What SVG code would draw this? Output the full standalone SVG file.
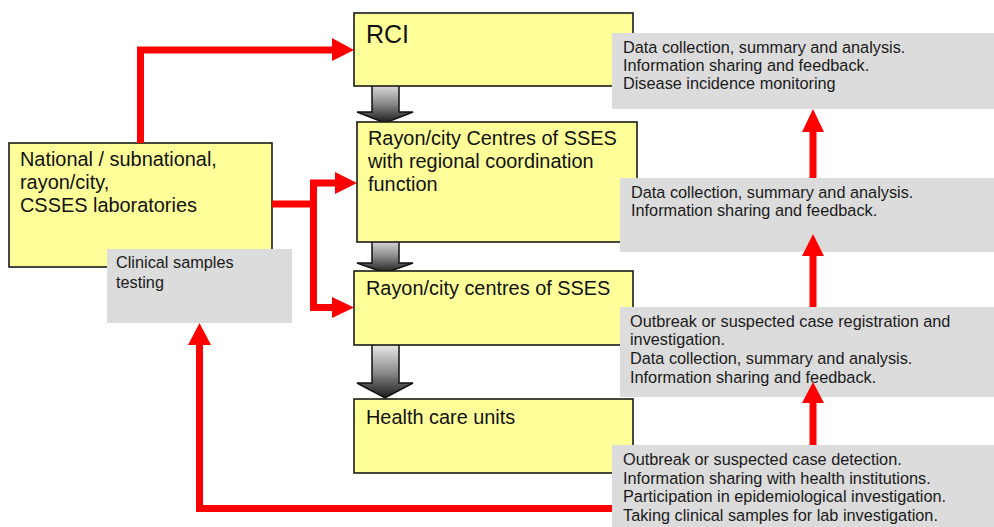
<svg xmlns="http://www.w3.org/2000/svg" width="994" height="527" viewBox="0 0 994 527">
<defs>
<linearGradient id="gblk" x1="0" y1="0" x2="0" y2="1">
<stop offset="0" stop-color="#f2f2f2"/>
<stop offset="0.55" stop-color="#8a8a8a"/>
<stop offset="1" stop-color="#1a1a1a"/>
</linearGradient>
<style>
.box{fill:#ffff99;stroke:#1a1a1a;stroke-width:1.6}
.note{fill:#dcdcdc}
.bt{font-family:"Liberation Sans",Arial,sans-serif;font-size:19.9px;fill:#111}
.nt{font-family:"Liberation Sans",Arial,sans-serif;font-size:16.3px;fill:#1a1a1a}
.blk{fill:url(#gblk);stroke:#111;stroke-width:1.5;stroke-linejoin:miter}
.ln{fill:none;stroke:#ff0000;stroke-width:7;stroke-linejoin:miter;stroke-linecap:butt}
.hd{fill:#ff0000}
</style>
</defs>
<rect width="994" height="527" fill="#ffffff"/>
<g id="flow-arrows">
<path class="blk" d="M372 80 H399 V112 H413 L385 123 L357 112 H372 Z"/>
<path class="blk" d="M372 236 H399 V263 H413 L385 273 L357 263 H372 Z"/>
<path class="blk" d="M372 342 H399 V383 H413 L385 398 L357 383 H372 Z"/>
</g>
<g id="rci">
<rect class="box" x="354" y="13" width="279" height="73"/>
<text class="bt" x="366" y="43" style="font-size:25px">RCI</text>
</g>
<g id="rayon-regional">
<rect class="box" x="357" y="122" width="280" height="120"/>
<text class="bt" x="368" y="145">Rayon/city Centres of SSES</text>
<text class="bt" x="368" y="168">with regional coordination</text>
<text class="bt" x="368" y="191">function</text>
</g>
<g id="rayon-centres">
<rect class="box" x="354" y="271" width="279" height="74"/>
<text class="bt" x="366" y="295">Rayon/city centres of SSES</text>
</g>
<g id="health-care">
<rect class="box" x="354" y="399" width="279" height="74"/>
<text class="bt" x="366" y="424">Health care units</text>
</g>
<g id="labs">
<rect class="box" x="9" y="143" width="263" height="124"/>
<text class="bt" x="20" y="166">National / subnational,</text>
<text class="bt" x="20" y="189">rayon/city,</text>
<text class="bt" x="20" y="212">CSSES laboratories</text>
</g>
<g id="note-clinical">
<rect class="note" x="107" y="249" width="185" height="74"/>
<text class="nt" x="116" y="268">Clinical samples</text>
<text class="nt" x="116" y="288">testing</text>
</g>
<g id="note-rci">
<rect class="note" x="612" y="33" width="382" height="76"/>
<text class="nt" x="623" y="53">Data collection, summary and analysis.</text>
<text class="nt" x="623" y="71">Information sharing and feedback.</text>
<text class="nt" x="623" y="89">Disease incidence monitoring</text>
</g>
<g id="note-regional">
<rect class="note" x="620" y="178" width="374" height="74"/>
<text class="nt" x="631" y="198">Data collection, summary and analysis.</text>
<text class="nt" x="631" y="216">Information sharing and feedback.</text>
</g>
<g id="note-centres">
<rect class="note" x="620" y="307" width="374" height="90"/>
<text class="nt" x="630" y="327">Outbreak or suspected case registration and</text>
<text class="nt" x="630" y="345">investigation.</text>
<text class="nt" x="630" y="364">Data collection, summary and analysis.</text>
<text class="nt" x="630" y="383">Information sharing and feedback.</text>
</g>
<g id="note-health">
<rect class="note" x="612" y="445" width="382" height="82"/>
<text class="nt" x="623" y="465">Outbreak or suspected case detection.</text>
<text class="nt" x="623" y="484">Information sharing with health institutions.</text>
<text class="nt" x="623" y="502">Participation in epidemiological investigation.</text>
<text class="nt" x="623" y="521">Taking clinical samples for lab investigation.</text>
</g>
<g id="connectors">
<path class="ln" d="M140.5 143 V50 H334"/>
<polygon class="hd" points="332,38 354,50 332,61"/>
<path class="ln" d="M272 204 H313.5"/>
<path class="ln" d="M313.5 183 V307.5"/>
<path class="ln" d="M310 183 H337"/>
<polygon class="hd" points="335,172 357,183 335,194"/>
<path class="ln" d="M310 307.5 H334"/>
<polygon class="hd" points="332,297 354,307.5 332,318"/>
<path class="ln" d="M612 508.5 H199.5 V343"/>
<polygon class="hd" points="188,345 199.5,323 211,345"/>
<path class="ln" d="M813 445 V401"/>
<polygon class="hd" points="802,403 813,382 824,403"/>
<path class="ln" d="M813 307 V254"/>
<polygon class="hd" points="802,256 813,234 824,256"/>
<path class="ln" d="M813 178 V130"/>
<polygon class="hd" points="802,132 813,109 824,132"/>
</g>
</svg>
